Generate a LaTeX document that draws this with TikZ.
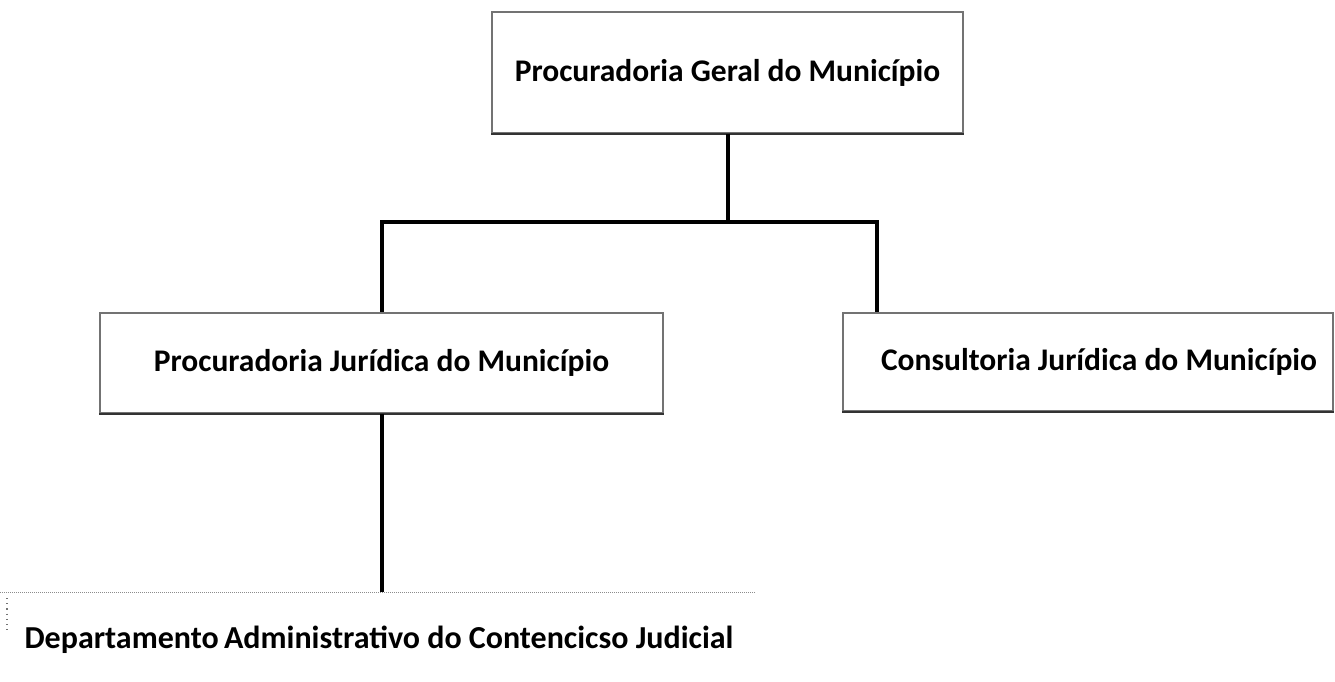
\documentclass[tikz,border=0pt]{standalone}
\usepackage{fontspec}
\setmainfont{Carlito}
\begin{document}
\begin{tikzpicture}[x=1pt,y=1pt,
  boxfont/.style={font=\fontsize{31.5}{36}\selectfont\bfseries},
  orgbox/.style={draw=black!55,line width=1.2pt,rectangle,inner sep=0pt,
    boxfont,text=black},
  link/.style={draw=black,line width=4pt}]
\useasboundingbox (0,0) rectangle (1335,-681);
\node[orgbox,minimum width=471pt,minimum height=121pt] (top) at (727.5,-72.5) {Procuradoria Geral do Município};
\node[orgbox,minimum width=563pt,minimum height=100pt] (left) at (381.5,-363) {Procuradoria Jurídica do Município};
\node[orgbox,minimum width=490pt,minimum height=98pt] (right) at (1088,-362) {\hspace*{22pt}Consultoria Jurídica do Município};
\node[font=\fontsize{32}{36}\selectfont\bfseries,inner sep=0pt] (dep) at (379,-640) {Departamento\,Administrativo do Contencicso Judicial};
% darker bottom edges of the scanned boxes
\draw[black!80,line width=2pt] (top.south west) -- (top.south east);
\draw[black!80,line width=2pt] (left.south west) -- (left.south east);
\draw[black!80,line width=2pt] (right.south west) -- (right.south east);
% faint frame of the bottom box
\coordinate (dtl) at (0,-592);
\coordinate (dtr) at (755,-592);
\coordinate (dlt) at (7,-598);
\coordinate (dlb) at (7,-632);
\draw[black!45,line width=1pt,densely dotted] (dtl) -- (dtr);
\draw[black!55,line width=1.2pt,loosely dotted] (dlt) -- (dlb);
% connectors
\coordinate (j) at (727.5,-222);
\coordinate (jl) at (381.5,-222);
\coordinate (jr) at (877,-222);
\coordinate (dt) at (381.5,-592);
\draw[link] (top.south) -- (j);
\draw[link,line cap=rect] (jl) -- (jr);
\draw[link] (jl) -- (left.north);
\draw[link] (jr) -- (jr |- right.north);
\draw[link] (left.south) -- (dt);
\end{tikzpicture}
\end{document}
